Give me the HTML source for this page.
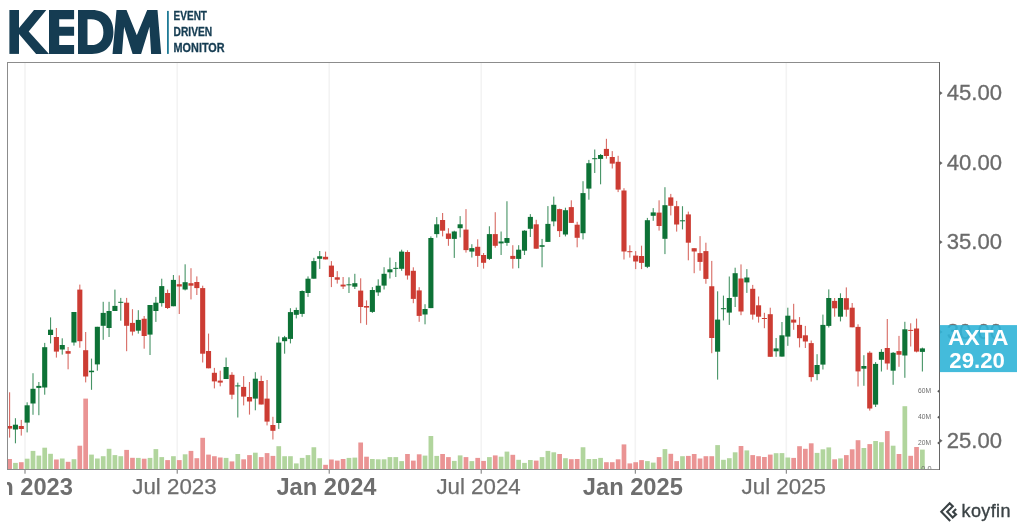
<!DOCTYPE html><html><head><meta charset="utf-8"><title>KEDM AXTA</title>
<style>html,body{margin:0;padding:0;background:#fff;}body{width:1024px;height:529px;overflow:hidden;font-family:"Liberation Sans",sans-serif;}svg{display:block;position:absolute;left:0;top:0;will-change:transform;}text{font-family:"Liberation Sans",sans-serif;}</style></head><body>
<svg width="1024" height="529" viewBox="0 0 1024 529">
<rect width="1024" height="529" fill="#fff"/>
<defs><clipPath id="cp"><rect x="8" y="63" width="931" height="406"/></clipPath><clipPath id="cx"><rect x="7" y="470" width="1017" height="59"/></clipPath></defs>
<rect x="24.2" y="63" width="1.6" height="406" fill="#f3f3f3"/>
<rect x="176.4" y="63" width="1.6" height="406" fill="#f3f3f3"/>
<rect x="328.4" y="63" width="1.6" height="406" fill="#f3f3f3"/>
<rect x="480.4" y="63" width="1.6" height="406" fill="#f3f3f3"/>
<rect x="634.5" y="63" width="1.6" height="406" fill="#f3f3f3"/>
<rect x="785.5" y="63" width="1.6" height="406" fill="#f3f3f3"/>
<g clip-path="url(#cp)">
<rect x="7.24" y="459" width="4.7" height="10" fill="#ea9494"/>
<rect x="13.09" y="462.9" width="4.7" height="6.1" fill="#b1d59d"/>
<rect x="18.94" y="462.2" width="4.7" height="6.8" fill="#ea9494"/>
<rect x="24.79" y="458.7" width="4.7" height="10.3" fill="#b1d59d"/>
<rect x="30.65" y="450.9" width="4.7" height="18.1" fill="#b1d59d"/>
<rect x="36.5" y="455.6" width="4.7" height="13.4" fill="#b1d59d"/>
<rect x="42.35" y="447.7" width="4.7" height="21.3" fill="#b1d59d"/>
<rect x="48.2" y="453.8" width="4.7" height="15.2" fill="#b1d59d"/>
<rect x="54.05" y="459.5" width="4.7" height="9.5" fill="#ea9494"/>
<rect x="59.9" y="458.5" width="4.7" height="10.5" fill="#b1d59d"/>
<rect x="65.75" y="461.8" width="4.7" height="7.2" fill="#ea9494"/>
<rect x="71.6" y="459.2" width="4.7" height="9.8" fill="#b1d59d"/>
<rect x="77.46" y="445.7" width="4.7" height="23.3" fill="#ea9494"/>
<rect x="83.31" y="398.6" width="4.7" height="70.4" fill="#ea9494"/>
<rect x="89.16" y="454.6" width="4.7" height="14.4" fill="#b1d59d"/>
<rect x="95.01" y="458.5" width="4.7" height="10.5" fill="#b1d59d"/>
<rect x="100.86" y="456.2" width="4.7" height="12.8" fill="#b1d59d"/>
<rect x="106.71" y="448.8" width="4.7" height="20.2" fill="#b1d59d"/>
<rect x="112.56" y="455.1" width="4.7" height="13.9" fill="#b1d59d"/>
<rect x="118.41" y="456.2" width="4.7" height="12.8" fill="#b1d59d"/>
<rect x="124.27" y="449.9" width="4.7" height="19.1" fill="#ea9494"/>
<rect x="130.12" y="457.8" width="4.7" height="11.2" fill="#ea9494"/>
<rect x="135.97" y="457.9" width="4.7" height="11.1" fill="#b1d59d"/>
<rect x="141.82" y="458.7" width="4.7" height="10.3" fill="#ea9494"/>
<rect x="147.67" y="457.9" width="4.7" height="11.1" fill="#b1d59d"/>
<rect x="153.52" y="449.1" width="4.7" height="19.9" fill="#b1d59d"/>
<rect x="159.37" y="457.1" width="4.7" height="11.9" fill="#b1d59d"/>
<rect x="165.23" y="460.1" width="4.7" height="8.9" fill="#ea9494"/>
<rect x="171.08" y="456.2" width="4.7" height="12.8" fill="#b1d59d"/>
<rect x="176.93" y="460.1" width="4.7" height="8.9" fill="#ea9494"/>
<rect x="182.78" y="454.3" width="4.7" height="14.7" fill="#b1d59d"/>
<rect x="188.63" y="450.9" width="4.7" height="18.1" fill="#ea9494"/>
<rect x="194.48" y="458.2" width="4.7" height="10.8" fill="#ea9494"/>
<rect x="200.33" y="437.8" width="4.7" height="31.2" fill="#ea9494"/>
<rect x="206.18" y="454.6" width="4.7" height="14.4" fill="#ea9494"/>
<rect x="212.04" y="456.2" width="4.7" height="12.8" fill="#ea9494"/>
<rect x="217.89" y="457.5" width="4.7" height="11.5" fill="#ea9494"/>
<rect x="223.74" y="457.9" width="4.7" height="11.1" fill="#b1d59d"/>
<rect x="229.59" y="461.4" width="4.7" height="7.6" fill="#ea9494"/>
<rect x="235.44" y="454" width="4.7" height="15" fill="#b1d59d"/>
<rect x="241.29" y="459.3" width="4.7" height="9.7" fill="#ea9494"/>
<rect x="247.14" y="455.1" width="4.7" height="13.9" fill="#ea9494"/>
<rect x="252.99" y="452.7" width="4.7" height="16.3" fill="#b1d59d"/>
<rect x="258.85" y="457.1" width="4.7" height="11.9" fill="#ea9494"/>
<rect x="264.7" y="453.1" width="4.7" height="15.9" fill="#ea9494"/>
<rect x="270.55" y="455.9" width="4.7" height="13.1" fill="#ea9494"/>
<rect x="276.4" y="446.2" width="4.7" height="22.8" fill="#b1d59d"/>
<rect x="282.25" y="456.2" width="4.7" height="12.8" fill="#b1d59d"/>
<rect x="288.1" y="456.2" width="4.7" height="12.8" fill="#b1d59d"/>
<rect x="293.95" y="463.4" width="4.7" height="5.6" fill="#b1d59d"/>
<rect x="299.8" y="457.9" width="4.7" height="11.1" fill="#b1d59d"/>
<rect x="305.66" y="455.1" width="4.7" height="13.9" fill="#b1d59d"/>
<rect x="311.51" y="447.25" width="4.7" height="21.75" fill="#b1d59d"/>
<rect x="317.36" y="458.2" width="4.7" height="10.8" fill="#b1d59d"/>
<rect x="323.21" y="464.8" width="4.7" height="4.2" fill="#ea9494"/>
<rect x="329.06" y="459.5" width="4.7" height="9.5" fill="#ea9494"/>
<rect x="334.91" y="460.6" width="4.7" height="8.4" fill="#ea9494"/>
<rect x="340.76" y="459" width="4.7" height="10" fill="#ea9494"/>
<rect x="346.62" y="457.9" width="4.7" height="11.1" fill="#b1d59d"/>
<rect x="352.47" y="457.6" width="4.7" height="11.4" fill="#b1d59d"/>
<rect x="358.32" y="442.5" width="4.7" height="26.5" fill="#ea9494"/>
<rect x="364.17" y="456.7" width="4.7" height="12.3" fill="#ea9494"/>
<rect x="370.02" y="459" width="4.7" height="10" fill="#b1d59d"/>
<rect x="375.87" y="459.3" width="4.7" height="9.7" fill="#b1d59d"/>
<rect x="381.72" y="459.3" width="4.7" height="9.7" fill="#b1d59d"/>
<rect x="387.57" y="457.1" width="4.7" height="11.9" fill="#b1d59d"/>
<rect x="393.43" y="457.1" width="4.7" height="11.9" fill="#b1d59d"/>
<rect x="399.28" y="461.1" width="4.7" height="7.9" fill="#b1d59d"/>
<rect x="405.13" y="454" width="4.7" height="15" fill="#ea9494"/>
<rect x="410.98" y="460.6" width="4.7" height="8.4" fill="#ea9494"/>
<rect x="416.83" y="454.3" width="4.7" height="14.7" fill="#ea9494"/>
<rect x="422.68" y="455.6" width="4.7" height="13.4" fill="#b1d59d"/>
<rect x="428.53" y="436" width="4.7" height="33" fill="#b1d59d"/>
<rect x="434.38" y="455.9" width="4.7" height="13.1" fill="#b1d59d"/>
<rect x="440.24" y="454" width="4.7" height="15" fill="#ea9494"/>
<rect x="446.09" y="457.1" width="4.7" height="11.9" fill="#ea9494"/>
<rect x="451.94" y="460.9" width="4.7" height="8.1" fill="#b1d59d"/>
<rect x="457.79" y="455.4" width="4.7" height="13.6" fill="#b1d59d"/>
<rect x="463.64" y="457.1" width="4.7" height="11.9" fill="#ea9494"/>
<rect x="469.49" y="461.1" width="4.7" height="7.9" fill="#b1d59d"/>
<rect x="475.34" y="457.9" width="4.7" height="11.1" fill="#ea9494"/>
<rect x="481.2" y="460.9" width="4.7" height="8.1" fill="#ea9494"/>
<rect x="487.05" y="457.1" width="4.7" height="11.9" fill="#b1d59d"/>
<rect x="492.9" y="455.4" width="4.7" height="13.6" fill="#ea9494"/>
<rect x="498.75" y="456.7" width="4.7" height="12.3" fill="#b1d59d"/>
<rect x="504.6" y="451.6" width="4.7" height="17.4" fill="#b1d59d"/>
<rect x="510.45" y="454.8" width="4.7" height="14.2" fill="#ea9494"/>
<rect x="516.3" y="459.8" width="4.7" height="9.2" fill="#b1d59d"/>
<rect x="522.15" y="462.9" width="4.7" height="6.1" fill="#b1d59d"/>
<rect x="528.01" y="460" width="4.7" height="9" fill="#b1d59d"/>
<rect x="533.86" y="460.6" width="4.7" height="8.4" fill="#ea9494"/>
<rect x="539.71" y="457.1" width="4.7" height="11.9" fill="#b1d59d"/>
<rect x="545.56" y="450.9" width="4.7" height="18.1" fill="#b1d59d"/>
<rect x="551.41" y="452.3" width="4.7" height="16.7" fill="#b1d59d"/>
<rect x="557.26" y="454" width="4.7" height="15" fill="#ea9494"/>
<rect x="563.11" y="458.2" width="4.7" height="10.8" fill="#b1d59d"/>
<rect x="568.96" y="459.2" width="4.7" height="9.8" fill="#ea9494"/>
<rect x="574.82" y="459" width="4.7" height="10" fill="#ea9494"/>
<rect x="580.67" y="447.25" width="4.7" height="21.75" fill="#b1d59d"/>
<rect x="586.52" y="459" width="4.7" height="10" fill="#b1d59d"/>
<rect x="592.37" y="459" width="4.7" height="10" fill="#b1d59d"/>
<rect x="598.22" y="457.9" width="4.7" height="11.1" fill="#b1d59d"/>
<rect x="604.07" y="462.2" width="4.7" height="6.8" fill="#ea9494"/>
<rect x="609.92" y="462.2" width="4.7" height="6.8" fill="#ea9494"/>
<rect x="615.78" y="459.3" width="4.7" height="9.7" fill="#ea9494"/>
<rect x="621.63" y="444.4" width="4.7" height="24.6" fill="#ea9494"/>
<rect x="627.48" y="463.4" width="4.7" height="5.6" fill="#ea9494"/>
<rect x="633.33" y="462.2" width="4.7" height="6.8" fill="#ea9494"/>
<rect x="639.18" y="460.1" width="4.7" height="8.9" fill="#ea9494"/>
<rect x="645.03" y="461.1" width="4.7" height="7.9" fill="#b1d59d"/>
<rect x="650.88" y="462.6" width="4.7" height="6.4" fill="#b1d59d"/>
<rect x="656.73" y="457.1" width="4.7" height="11.9" fill="#ea9494"/>
<rect x="662.59" y="449.1" width="4.7" height="19.9" fill="#b1d59d"/>
<rect x="668.44" y="453.8" width="4.7" height="15.2" fill="#ea9494"/>
<rect x="674.29" y="461.1" width="4.7" height="7.9" fill="#ea9494"/>
<rect x="680.14" y="456.2" width="4.7" height="12.8" fill="#b1d59d"/>
<rect x="685.99" y="455.9" width="4.7" height="13.1" fill="#ea9494"/>
<rect x="691.84" y="454" width="4.7" height="15" fill="#ea9494"/>
<rect x="697.69" y="458.5" width="4.7" height="10.5" fill="#ea9494"/>
<rect x="703.54" y="456.2" width="4.7" height="12.8" fill="#ea9494"/>
<rect x="709.4" y="456.2" width="4.7" height="12.8" fill="#ea9494"/>
<rect x="715.25" y="445.1" width="4.7" height="23.9" fill="#b1d59d"/>
<rect x="721.1" y="459.8" width="4.7" height="9.2" fill="#b1d59d"/>
<rect x="726.95" y="458.2" width="4.7" height="10.8" fill="#b1d59d"/>
<rect x="732.8" y="452.3" width="4.7" height="16.7" fill="#b1d59d"/>
<rect x="738.65" y="446" width="4.7" height="23" fill="#ea9494"/>
<rect x="744.5" y="450.4" width="4.7" height="18.6" fill="#b1d59d"/>
<rect x="750.36" y="455.1" width="4.7" height="13.9" fill="#ea9494"/>
<rect x="756.21" y="456.2" width="4.7" height="12.8" fill="#ea9494"/>
<rect x="762.06" y="457" width="4.7" height="12" fill="#ea9494"/>
<rect x="767.91" y="454.6" width="4.7" height="14.4" fill="#ea9494"/>
<rect x="773.76" y="453.2" width="4.7" height="15.8" fill="#b1d59d"/>
<rect x="779.61" y="453.1" width="4.7" height="15.9" fill="#b1d59d"/>
<rect x="785.46" y="457.5" width="4.7" height="11.5" fill="#b1d59d"/>
<rect x="791.31" y="457.9" width="4.7" height="11.1" fill="#ea9494"/>
<rect x="797.17" y="446.2" width="4.7" height="22.8" fill="#ea9494"/>
<rect x="803.02" y="448.8" width="4.7" height="20.2" fill="#ea9494"/>
<rect x="808.87" y="443.3" width="4.7" height="25.7" fill="#ea9494"/>
<rect x="814.72" y="452.9" width="4.7" height="16.1" fill="#b1d59d"/>
<rect x="820.57" y="449.3" width="4.7" height="19.7" fill="#b1d59d"/>
<rect x="826.42" y="447.4" width="4.7" height="21.6" fill="#b1d59d"/>
<rect x="832.27" y="459.3" width="4.7" height="9.7" fill="#ea9494"/>
<rect x="838.12" y="458.4" width="4.7" height="10.6" fill="#b1d59d"/>
<rect x="843.98" y="455.1" width="4.7" height="13.9" fill="#ea9494"/>
<rect x="849.83" y="449.3" width="4.7" height="19.7" fill="#ea9494"/>
<rect x="855.68" y="440.2" width="4.7" height="28.8" fill="#ea9494"/>
<rect x="861.53" y="448" width="4.7" height="21" fill="#b1d59d"/>
<rect x="867.38" y="444.1" width="4.7" height="24.9" fill="#ea9494"/>
<rect x="873.23" y="441" width="4.7" height="28" fill="#b1d59d"/>
<rect x="879.08" y="442.2" width="4.7" height="26.8" fill="#b1d59d"/>
<rect x="884.94" y="431.1" width="4.7" height="37.9" fill="#ea9494"/>
<rect x="890.79" y="445.7" width="4.7" height="23.3" fill="#b1d59d"/>
<rect x="896.64" y="454" width="4.7" height="15" fill="#ea9494"/>
<rect x="902.49" y="406.2" width="4.7" height="62.8" fill="#b1d59d"/>
<rect x="908.34" y="455.8" width="4.7" height="13.2" fill="#ea9494"/>
<rect x="914.19" y="447" width="4.7" height="22" fill="#ea9494"/>
<rect x="920.04" y="449.6" width="4.7" height="19.4" fill="#b1d59d"/>
<rect x="9.04" y="392.3" width="1.1" height="45.3" fill="#cc3c33" opacity="0.76"/>
<rect x="7.04" y="426" width="5.1" height="2.6" fill="#cc3c33"/>
<rect x="14.89" y="418.2" width="1.1" height="25.1" fill="#0d7236" opacity="0.76"/>
<rect x="12.89" y="424.7" width="5.1" height="4.8" fill="#0d7236"/>
<rect x="20.74" y="419.9" width="1.1" height="15.7" fill="#cc3c33" opacity="0.76"/>
<rect x="18.74" y="426" width="5.1" height="3" fill="#cc3c33"/>
<rect x="26.59" y="402.3" width="1.1" height="30.1" fill="#0d7236" opacity="0.76"/>
<rect x="24.59" y="405.3" width="5.1" height="17.3" fill="#0d7236"/>
<rect x="32.45" y="373.2" width="1.1" height="41.6" fill="#0d7236" opacity="0.76"/>
<rect x="30.45" y="388.8" width="5.1" height="14.7" fill="#0d7236"/>
<rect x="38.3" y="382" width="1.1" height="33.2" fill="#0d7236" opacity="0.76"/>
<rect x="36.3" y="385.9" width="5.1" height="2" fill="#0d7236"/>
<rect x="44.15" y="342.9" width="1.1" height="51.8" fill="#0d7236" opacity="0.76"/>
<rect x="42.15" y="347.2" width="5.1" height="40.3" fill="#0d7236"/>
<rect x="50" y="317.4" width="1.1" height="26" fill="#0d7236" opacity="0.76"/>
<rect x="48" y="329.7" width="5.1" height="5.3" fill="#0d7236"/>
<rect x="55.85" y="328" width="1.1" height="29.6" fill="#cc3c33" opacity="0.76"/>
<rect x="53.85" y="337" width="5.1" height="14.6" fill="#cc3c33"/>
<rect x="61.7" y="338.3" width="1.1" height="16.3" fill="#0d7236" opacity="0.76"/>
<rect x="59.7" y="345" width="5.1" height="4.5" fill="#0d7236"/>
<rect x="67.55" y="347" width="1.1" height="22.3" fill="#cc3c33" opacity="0.76"/>
<rect x="65.55" y="351.1" width="5.1" height="2.6" fill="#cc3c33"/>
<rect x="73.4" y="312" width="1.1" height="33.6" fill="#0d7236" opacity="0.76"/>
<rect x="71.4" y="312" width="5.1" height="30.5" fill="#0d7236"/>
<rect x="79.26" y="284.6" width="1.1" height="63.1" fill="#cc3c33" opacity="0.76"/>
<rect x="77.26" y="289.6" width="5.1" height="51.6" fill="#cc3c33"/>
<rect x="85.11" y="332" width="1.1" height="50.4" fill="#cc3c33" opacity="0.76"/>
<rect x="83.11" y="350.2" width="5.1" height="26.3" fill="#cc3c33"/>
<rect x="90.96" y="358.6" width="1.1" height="31.2" fill="#0d7236" opacity="0.76"/>
<rect x="88.96" y="370.7" width="5.1" height="1.5" fill="#0d7236"/>
<rect x="96.81" y="326.8" width="1.1" height="43.9" fill="#0d7236" opacity="0.76"/>
<rect x="94.81" y="326.8" width="5.1" height="37.6" fill="#0d7236"/>
<rect x="102.66" y="301.8" width="1.1" height="38" fill="#0d7236" opacity="0.76"/>
<rect x="100.66" y="312.9" width="5.1" height="12.9" fill="#0d7236"/>
<rect x="108.51" y="301.8" width="1.1" height="35.2" fill="#0d7236" opacity="0.76"/>
<rect x="106.51" y="311" width="5.1" height="17" fill="#0d7236"/>
<rect x="114.36" y="289.6" width="1.1" height="21.4" fill="#0d7236" opacity="0.76"/>
<rect x="112.36" y="305.9" width="5.1" height="5.1" fill="#0d7236"/>
<rect x="120.21" y="297.9" width="1.1" height="22.8" fill="#0d7236" opacity="0.76"/>
<rect x="118.21" y="301.8" width="5.1" height="1" fill="#0d7236"/>
<rect x="126.07" y="297.9" width="1.1" height="53.3" fill="#cc3c33" opacity="0.76"/>
<rect x="124.07" y="302.7" width="5.1" height="23.1" fill="#cc3c33"/>
<rect x="131.92" y="309.2" width="1.1" height="26.3" fill="#cc3c33" opacity="0.76"/>
<rect x="129.92" y="322.9" width="5.1" height="8.7" fill="#cc3c33"/>
<rect x="137.77" y="310.2" width="1.1" height="23.4" fill="#0d7236" opacity="0.76"/>
<rect x="135.77" y="319.9" width="5.1" height="10.8" fill="#0d7236"/>
<rect x="143.62" y="316" width="1.1" height="32.7" fill="#cc3c33" opacity="0.76"/>
<rect x="141.62" y="318.75" width="5.1" height="17.25" fill="#cc3c33"/>
<rect x="149.47" y="305" width="1.1" height="50" fill="#0d7236" opacity="0.76"/>
<rect x="147.47" y="305" width="5.1" height="29.6" fill="#0d7236"/>
<rect x="155.32" y="296.9" width="1.1" height="25" fill="#0d7236" opacity="0.76"/>
<rect x="153.32" y="302.7" width="5.1" height="8.3" fill="#0d7236"/>
<rect x="161.17" y="278.7" width="1.1" height="27.9" fill="#0d7236" opacity="0.76"/>
<rect x="159.17" y="286.1" width="5.1" height="17" fill="#0d7236"/>
<rect x="167.03" y="289.6" width="1.1" height="19.4" fill="#cc3c33" opacity="0.76"/>
<rect x="165.03" y="293" width="5.1" height="15" fill="#cc3c33"/>
<rect x="172.88" y="275" width="1.1" height="31.25" fill="#0d7236" opacity="0.76"/>
<rect x="170.88" y="279.9" width="5.1" height="26.35" fill="#0d7236"/>
<rect x="178.73" y="275.4" width="1.1" height="38.6" fill="#cc3c33" opacity="0.76"/>
<rect x="176.73" y="284.2" width="5.1" height="2.3" fill="#cc3c33"/>
<rect x="184.58" y="264.3" width="1.1" height="26.1" fill="#0d7236" opacity="0.76"/>
<rect x="182.58" y="282.2" width="5.1" height="7.3" fill="#0d7236"/>
<rect x="190.43" y="268.2" width="1.1" height="31.2" fill="#cc3c33" opacity="0.76"/>
<rect x="188.43" y="283.2" width="5.1" height="2.5" fill="#cc3c33"/>
<rect x="196.28" y="276.4" width="1.1" height="18.6" fill="#cc3c33" opacity="0.76"/>
<rect x="194.28" y="282" width="5.1" height="6.1" fill="#cc3c33"/>
<rect x="202.13" y="285.7" width="1.1" height="76.8" fill="#cc3c33" opacity="0.76"/>
<rect x="200.13" y="288.1" width="5.1" height="65.6" fill="#cc3c33"/>
<rect x="207.98" y="333.6" width="1.1" height="34.7" fill="#cc3c33" opacity="0.76"/>
<rect x="205.98" y="351" width="5.1" height="17.3" fill="#cc3c33"/>
<rect x="213.84" y="367.9" width="1.1" height="20.5" fill="#cc3c33" opacity="0.76"/>
<rect x="211.84" y="372.8" width="5.1" height="8.6" fill="#cc3c33"/>
<rect x="219.69" y="370.7" width="1.1" height="15.6" fill="#cc3c33" opacity="0.76"/>
<rect x="217.69" y="380.6" width="5.1" height="2" fill="#cc3c33"/>
<rect x="225.54" y="357.6" width="1.1" height="21.4" fill="#0d7236" opacity="0.76"/>
<rect x="223.54" y="367" width="5.1" height="12" fill="#0d7236"/>
<rect x="231.39" y="372.2" width="1.1" height="27" fill="#cc3c33" opacity="0.76"/>
<rect x="229.39" y="374.8" width="5.1" height="19.9" fill="#cc3c33"/>
<rect x="237.24" y="382.6" width="1.1" height="34.9" fill="#0d7236" opacity="0.76"/>
<rect x="235.24" y="385.4" width="5.1" height="1" fill="#0d7236"/>
<rect x="243.09" y="376.1" width="1.1" height="29.3" fill="#cc3c33" opacity="0.76"/>
<rect x="241.09" y="386.9" width="5.1" height="9.7" fill="#cc3c33"/>
<rect x="248.94" y="382" width="1.1" height="32.6" fill="#cc3c33" opacity="0.76"/>
<rect x="246.94" y="397" width="5.1" height="4.5" fill="#cc3c33"/>
<rect x="254.79" y="372.2" width="1.1" height="38.1" fill="#0d7236" opacity="0.76"/>
<rect x="252.79" y="378.7" width="5.1" height="19.9" fill="#0d7236"/>
<rect x="260.65" y="375.7" width="1.1" height="28.8" fill="#cc3c33" opacity="0.76"/>
<rect x="258.65" y="381" width="5.1" height="23.5" fill="#cc3c33"/>
<rect x="266.5" y="380" width="1.1" height="45.4" fill="#cc3c33" opacity="0.76"/>
<rect x="264.5" y="398.6" width="5.1" height="23" fill="#cc3c33"/>
<rect x="272.35" y="416.8" width="1.1" height="22.7" fill="#cc3c33" opacity="0.76"/>
<rect x="270.35" y="425" width="5.1" height="5.8" fill="#cc3c33"/>
<rect x="278.2" y="336.5" width="1.1" height="92.4" fill="#0d7236" opacity="0.76"/>
<rect x="276.2" y="342.6" width="5.1" height="80.4" fill="#0d7236"/>
<rect x="284.05" y="335.9" width="1.1" height="17.8" fill="#0d7236" opacity="0.76"/>
<rect x="282.05" y="337.3" width="5.1" height="3.9" fill="#0d7236"/>
<rect x="289.9" y="308.2" width="1.1" height="35.2" fill="#0d7236" opacity="0.76"/>
<rect x="287.9" y="312.1" width="5.1" height="26.8" fill="#0d7236"/>
<rect x="295.75" y="307.6" width="1.1" height="10.8" fill="#0d7236" opacity="0.76"/>
<rect x="293.75" y="310" width="5.1" height="4.8" fill="#0d7236"/>
<rect x="301.6" y="290.4" width="1.1" height="26.4" fill="#0d7236" opacity="0.76"/>
<rect x="299.6" y="291" width="5.1" height="22.9" fill="#0d7236"/>
<rect x="307.46" y="276.4" width="1.1" height="20.5" fill="#0d7236" opacity="0.76"/>
<rect x="305.46" y="278.7" width="5.1" height="14.3" fill="#0d7236"/>
<rect x="313.31" y="257.8" width="1.1" height="20.9" fill="#0d7236" opacity="0.76"/>
<rect x="311.31" y="261.1" width="5.1" height="17.6" fill="#0d7236"/>
<rect x="319.16" y="251" width="1.1" height="17.9" fill="#0d7236" opacity="0.76"/>
<rect x="317.16" y="256.25" width="5.1" height="2.55" fill="#0d7236"/>
<rect x="325.01" y="251.6" width="1.1" height="7.8" fill="#cc3c33" opacity="0.76"/>
<rect x="323.01" y="256.8" width="5.1" height="2.6" fill="#cc3c33"/>
<rect x="330.86" y="261.1" width="1.1" height="26" fill="#cc3c33" opacity="0.76"/>
<rect x="328.86" y="265.6" width="5.1" height="11.4" fill="#cc3c33"/>
<rect x="336.71" y="271.1" width="1.1" height="12.5" fill="#cc3c33" opacity="0.76"/>
<rect x="334.71" y="277.3" width="5.1" height="2.4" fill="#cc3c33"/>
<rect x="342.56" y="277" width="1.1" height="12" fill="#cc3c33" opacity="0.76"/>
<rect x="340.56" y="284.6" width="5.1" height="1.9" fill="#cc3c33"/>
<rect x="348.42" y="277.3" width="1.1" height="15.7" fill="#0d7236" opacity="0.76"/>
<rect x="346.42" y="284.3" width="5.1" height="1" fill="#0d7236"/>
<rect x="354.27" y="273.8" width="1.1" height="15.2" fill="#0d7236" opacity="0.76"/>
<rect x="352.27" y="283.2" width="5.1" height="3.5" fill="#0d7236"/>
<rect x="360.12" y="278.3" width="1.1" height="44.9" fill="#cc3c33" opacity="0.76"/>
<rect x="358.12" y="290.6" width="5.1" height="16.4" fill="#cc3c33"/>
<rect x="365.97" y="300.4" width="1.1" height="24.4" fill="#cc3c33" opacity="0.76"/>
<rect x="363.97" y="306" width="5.1" height="1.6" fill="#cc3c33"/>
<rect x="371.82" y="287.1" width="1.1" height="25.8" fill="#0d7236" opacity="0.76"/>
<rect x="369.82" y="290" width="5.1" height="21.9" fill="#0d7236"/>
<rect x="377.67" y="279.3" width="1.1" height="16.6" fill="#0d7236" opacity="0.76"/>
<rect x="375.67" y="285.7" width="5.1" height="6.7" fill="#0d7236"/>
<rect x="383.52" y="267.2" width="1.1" height="22.3" fill="#0d7236" opacity="0.76"/>
<rect x="381.52" y="273.8" width="5.1" height="11.8" fill="#0d7236"/>
<rect x="389.37" y="257.6" width="1.1" height="20.9" fill="#0d7236" opacity="0.76"/>
<rect x="387.37" y="269.3" width="5.1" height="3" fill="#0d7236"/>
<rect x="395.23" y="262" width="1.1" height="15" fill="#0d7236" opacity="0.76"/>
<rect x="393.23" y="267.85" width="5.1" height="1" fill="#0d7236"/>
<rect x="401.08" y="249.7" width="1.1" height="21.1" fill="#0d7236" opacity="0.76"/>
<rect x="399.08" y="251.6" width="5.1" height="17.2" fill="#0d7236"/>
<rect x="406.93" y="250.3" width="1.1" height="29.3" fill="#cc3c33" opacity="0.76"/>
<rect x="404.93" y="252" width="5.1" height="23.5" fill="#cc3c33"/>
<rect x="412.78" y="267.3" width="1.1" height="35.9" fill="#cc3c33" opacity="0.76"/>
<rect x="410.78" y="270.8" width="5.1" height="28.1" fill="#cc3c33"/>
<rect x="418.63" y="287.2" width="1.1" height="34.6" fill="#cc3c33" opacity="0.76"/>
<rect x="416.63" y="290.4" width="5.1" height="25.5" fill="#cc3c33"/>
<rect x="424.48" y="304.2" width="1.1" height="20.1" fill="#0d7236" opacity="0.76"/>
<rect x="422.48" y="309" width="5.1" height="5.5" fill="#0d7236"/>
<rect x="430.33" y="236.4" width="1.1" height="71.7" fill="#0d7236" opacity="0.76"/>
<rect x="428.33" y="238" width="5.1" height="70.1" fill="#0d7236"/>
<rect x="436.18" y="217.1" width="1.1" height="20.5" fill="#0d7236" opacity="0.76"/>
<rect x="434.18" y="224.3" width="5.1" height="9.8" fill="#0d7236"/>
<rect x="442.04" y="213" width="1.1" height="23.4" fill="#cc3c33" opacity="0.76"/>
<rect x="440.04" y="220" width="5.1" height="10.7" fill="#cc3c33"/>
<rect x="447.89" y="228.2" width="1.1" height="17.6" fill="#cc3c33" opacity="0.76"/>
<rect x="445.89" y="233.5" width="5.1" height="5.4" fill="#cc3c33"/>
<rect x="453.74" y="230.7" width="1.1" height="27.2" fill="#0d7236" opacity="0.76"/>
<rect x="451.74" y="231.5" width="5.1" height="7.4" fill="#0d7236"/>
<rect x="459.59" y="216.1" width="1.1" height="21.3" fill="#0d7236" opacity="0.76"/>
<rect x="457.59" y="224.3" width="5.1" height="3.9" fill="#0d7236"/>
<rect x="465.44" y="209.1" width="1.1" height="43.5" fill="#cc3c33" opacity="0.76"/>
<rect x="463.44" y="229.6" width="5.1" height="20.5" fill="#cc3c33"/>
<rect x="471.29" y="244.2" width="1.1" height="13.3" fill="#0d7236" opacity="0.76"/>
<rect x="469.29" y="248.1" width="5.1" height="3.5" fill="#0d7236"/>
<rect x="477.14" y="239.3" width="1.1" height="27.6" fill="#cc3c33" opacity="0.76"/>
<rect x="475.14" y="246.8" width="5.1" height="9.1" fill="#cc3c33"/>
<rect x="483" y="253" width="1.1" height="15.6" fill="#cc3c33" opacity="0.76"/>
<rect x="481" y="255" width="5.1" height="7.8" fill="#cc3c33"/>
<rect x="488.85" y="226.25" width="1.1" height="33.75" fill="#0d7236" opacity="0.76"/>
<rect x="486.85" y="234.1" width="5.1" height="24.8" fill="#0d7236"/>
<rect x="494.7" y="212.2" width="1.1" height="35.5" fill="#cc3c33" opacity="0.76"/>
<rect x="492.7" y="234.1" width="5.1" height="11.7" fill="#cc3c33"/>
<rect x="500.55" y="231.5" width="1.1" height="23.5" fill="#0d7236" opacity="0.76"/>
<rect x="498.55" y="241.5" width="5.1" height="1.9" fill="#0d7236"/>
<rect x="506.4" y="201.25" width="1.1" height="44.55" fill="#0d7236" opacity="0.76"/>
<rect x="504.4" y="238" width="5.1" height="4.9" fill="#0d7236"/>
<rect x="512.25" y="245.2" width="1.1" height="23.4" fill="#cc3c33" opacity="0.76"/>
<rect x="510.25" y="255.9" width="5.1" height="3" fill="#cc3c33"/>
<rect x="518.1" y="245.2" width="1.1" height="23" fill="#0d7236" opacity="0.76"/>
<rect x="516.1" y="249.7" width="5.1" height="9.2" fill="#0d7236"/>
<rect x="523.95" y="230.2" width="1.1" height="24.8" fill="#0d7236" opacity="0.76"/>
<rect x="521.95" y="230.7" width="5.1" height="20" fill="#0d7236"/>
<rect x="529.81" y="214.1" width="1.1" height="22.9" fill="#0d7236" opacity="0.76"/>
<rect x="527.81" y="216.9" width="5.1" height="11.9" fill="#0d7236"/>
<rect x="535.66" y="219.8" width="1.1" height="28.9" fill="#cc3c33" opacity="0.76"/>
<rect x="533.66" y="224.3" width="5.1" height="24.4" fill="#cc3c33"/>
<rect x="541.51" y="238.9" width="1.1" height="28.4" fill="#0d7236" opacity="0.76"/>
<rect x="539.51" y="245.2" width="5.1" height="1.6" fill="#0d7236"/>
<rect x="547.36" y="206.1" width="1.1" height="35.8" fill="#0d7236" opacity="0.76"/>
<rect x="545.36" y="223.9" width="5.1" height="18" fill="#0d7236"/>
<rect x="553.21" y="196.6" width="1.1" height="29.65" fill="#0d7236" opacity="0.76"/>
<rect x="551.21" y="204.8" width="5.1" height="16.6" fill="#0d7236"/>
<rect x="559.06" y="208.7" width="1.1" height="28.3" fill="#cc3c33" opacity="0.76"/>
<rect x="557.06" y="209.1" width="5.1" height="22" fill="#cc3c33"/>
<rect x="564.91" y="207.7" width="1.1" height="28.7" fill="#0d7236" opacity="0.76"/>
<rect x="562.91" y="210.2" width="5.1" height="24.3" fill="#0d7236"/>
<rect x="570.76" y="200.3" width="1.1" height="22.6" fill="#cc3c33" opacity="0.76"/>
<rect x="568.76" y="207.1" width="5.1" height="15.8" fill="#cc3c33"/>
<rect x="576.62" y="221.8" width="1.1" height="25.5" fill="#cc3c33" opacity="0.76"/>
<rect x="574.62" y="224.7" width="5.1" height="13.1" fill="#cc3c33"/>
<rect x="582.47" y="181.2" width="1.1" height="58.2" fill="#0d7236" opacity="0.76"/>
<rect x="580.47" y="193.1" width="5.1" height="40.1" fill="#0d7236"/>
<rect x="588.32" y="159.9" width="1.1" height="39.8" fill="#0d7236" opacity="0.76"/>
<rect x="586.32" y="163.2" width="5.1" height="25.4" fill="#0d7236"/>
<rect x="594.17" y="149.5" width="1.1" height="23.5" fill="#0d7236" opacity="0.76"/>
<rect x="592.17" y="158.2" width="5.1" height="1" fill="#0d7236"/>
<rect x="600.02" y="154" width="1.1" height="30.3" fill="#0d7236" opacity="0.76"/>
<rect x="598.02" y="155" width="5.1" height="3.9" fill="#0d7236"/>
<rect x="605.87" y="138.8" width="1.1" height="19.9" fill="#cc3c33" opacity="0.76"/>
<rect x="603.87" y="148.9" width="5.1" height="7.1" fill="#cc3c33"/>
<rect x="611.72" y="151.1" width="1.1" height="17.4" fill="#cc3c33" opacity="0.76"/>
<rect x="609.72" y="157" width="5.1" height="6.6" fill="#cc3c33"/>
<rect x="617.58" y="155.8" width="1.1" height="36.3" fill="#cc3c33" opacity="0.76"/>
<rect x="615.58" y="161.8" width="5.1" height="27.8" fill="#cc3c33"/>
<rect x="623.43" y="188.2" width="1.1" height="71.3" fill="#cc3c33" opacity="0.76"/>
<rect x="621.43" y="190.5" width="5.1" height="61" fill="#cc3c33"/>
<rect x="629.28" y="245.3" width="1.1" height="12.3" fill="#cc3c33" opacity="0.76"/>
<rect x="627.28" y="251.2" width="5.1" height="1" fill="#cc3c33"/>
<rect x="635.13" y="251.1" width="1.1" height="18" fill="#cc3c33" opacity="0.76"/>
<rect x="633.13" y="255.6" width="5.1" height="5.9" fill="#cc3c33"/>
<rect x="640.98" y="245.7" width="1.1" height="23.4" fill="#cc3c33" opacity="0.76"/>
<rect x="638.98" y="256" width="5.1" height="6.9" fill="#cc3c33"/>
<rect x="646.83" y="217.9" width="1.1" height="50.2" fill="#0d7236" opacity="0.76"/>
<rect x="644.83" y="220.2" width="5.1" height="46.6" fill="#0d7236"/>
<rect x="652.68" y="208.1" width="1.1" height="12.7" fill="#0d7236" opacity="0.76"/>
<rect x="650.68" y="212.4" width="5.1" height="3.4" fill="#0d7236"/>
<rect x="658.53" y="200.3" width="1.1" height="30.3" fill="#cc3c33" opacity="0.76"/>
<rect x="656.53" y="212.6" width="5.1" height="13.4" fill="#cc3c33"/>
<rect x="664.39" y="187.2" width="1.1" height="66.9" fill="#0d7236" opacity="0.76"/>
<rect x="662.39" y="205.2" width="5.1" height="33.6" fill="#0d7236"/>
<rect x="670.24" y="193.9" width="1.1" height="21.5" fill="#cc3c33" opacity="0.76"/>
<rect x="668.24" y="197.4" width="5.1" height="8.4" fill="#cc3c33"/>
<rect x="676.09" y="200.9" width="1.1" height="30.7" fill="#cc3c33" opacity="0.76"/>
<rect x="674.09" y="206.2" width="5.1" height="18.3" fill="#cc3c33"/>
<rect x="681.94" y="206.2" width="1.1" height="23.2" fill="#0d7236" opacity="0.76"/>
<rect x="679.94" y="220.3" width="5.1" height="1" fill="#0d7236"/>
<rect x="687.79" y="211.6" width="1.1" height="48.7" fill="#cc3c33" opacity="0.76"/>
<rect x="685.79" y="214.4" width="5.1" height="28.3" fill="#cc3c33"/>
<rect x="693.64" y="248.2" width="1.1" height="25" fill="#cc3c33" opacity="0.76"/>
<rect x="691.64" y="248.2" width="5.1" height="3.3" fill="#cc3c33"/>
<rect x="699.49" y="236.1" width="1.1" height="34.6" fill="#cc3c33" opacity="0.76"/>
<rect x="697.49" y="253.1" width="5.1" height="8.8" fill="#cc3c33"/>
<rect x="705.34" y="242.7" width="1.1" height="41.05" fill="#cc3c33" opacity="0.76"/>
<rect x="703.34" y="251.1" width="5.1" height="27.8" fill="#cc3c33"/>
<rect x="711.2" y="260.9" width="1.1" height="92.3" fill="#cc3c33" opacity="0.76"/>
<rect x="709.2" y="286.25" width="5.1" height="51.75" fill="#cc3c33"/>
<rect x="717.05" y="291.3" width="1.1" height="88.3" fill="#0d7236" opacity="0.76"/>
<rect x="715.05" y="319.6" width="5.1" height="32.1" fill="#0d7236"/>
<rect x="722.9" y="295.6" width="1.1" height="24.8" fill="#0d7236" opacity="0.76"/>
<rect x="720.9" y="308.2" width="5.1" height="1" fill="#0d7236"/>
<rect x="728.75" y="276.5" width="1.1" height="48.4" fill="#0d7236" opacity="0.76"/>
<rect x="726.75" y="298" width="5.1" height="14.6" fill="#0d7236"/>
<rect x="734.6" y="267.7" width="1.1" height="39.3" fill="#0d7236" opacity="0.76"/>
<rect x="732.6" y="273.2" width="5.1" height="23.6" fill="#0d7236"/>
<rect x="740.45" y="264.4" width="1.1" height="50.8" fill="#cc3c33" opacity="0.76"/>
<rect x="738.45" y="278.5" width="5.1" height="33" fill="#cc3c33"/>
<rect x="746.3" y="269.1" width="1.1" height="23.8" fill="#0d7236" opacity="0.76"/>
<rect x="744.3" y="277.5" width="5.1" height="4.9" fill="#0d7236"/>
<rect x="752.16" y="284.9" width="1.1" height="34.7" fill="#cc3c33" opacity="0.76"/>
<rect x="750.16" y="288.8" width="5.1" height="25.8" fill="#cc3c33"/>
<rect x="758.01" y="296.5" width="1.1" height="26.1" fill="#cc3c33" opacity="0.76"/>
<rect x="756.01" y="305.3" width="5.1" height="11.4" fill="#cc3c33"/>
<rect x="763.86" y="312.8" width="1.1" height="15.4" fill="#cc3c33" opacity="0.76"/>
<rect x="761.86" y="318" width="5.1" height="1" fill="#cc3c33"/>
<rect x="769.71" y="307.7" width="1.1" height="49.1" fill="#cc3c33" opacity="0.76"/>
<rect x="767.71" y="314.2" width="5.1" height="42.6" fill="#cc3c33"/>
<rect x="775.56" y="338" width="1.1" height="18.8" fill="#0d7236" opacity="0.76"/>
<rect x="773.56" y="348.4" width="5.1" height="2.9" fill="#0d7236"/>
<rect x="781.41" y="322" width="1.1" height="34.6" fill="#0d7236" opacity="0.76"/>
<rect x="779.41" y="335.3" width="5.1" height="21.3" fill="#0d7236"/>
<rect x="787.26" y="307.7" width="1.1" height="38.1" fill="#0d7236" opacity="0.76"/>
<rect x="785.26" y="315.7" width="5.1" height="20.9" fill="#0d7236"/>
<rect x="793.11" y="303.8" width="1.1" height="26" fill="#cc3c33" opacity="0.76"/>
<rect x="791.11" y="319.6" width="5.1" height="3" fill="#cc3c33"/>
<rect x="798.97" y="317.1" width="1.1" height="30.3" fill="#cc3c33" opacity="0.76"/>
<rect x="796.97" y="324.9" width="5.1" height="13.3" fill="#cc3c33"/>
<rect x="804.82" y="325.9" width="1.1" height="22.1" fill="#cc3c33" opacity="0.76"/>
<rect x="802.82" y="335.3" width="5.1" height="6.2" fill="#cc3c33"/>
<rect x="810.67" y="340.5" width="1.1" height="41.1" fill="#cc3c33" opacity="0.76"/>
<rect x="808.67" y="343.1" width="5.1" height="34" fill="#cc3c33"/>
<rect x="816.52" y="354.2" width="1.1" height="26" fill="#0d7236" opacity="0.76"/>
<rect x="814.52" y="365" width="5.1" height="9.1" fill="#0d7236"/>
<rect x="822.37" y="314.6" width="1.1" height="54.9" fill="#0d7236" opacity="0.76"/>
<rect x="820.37" y="324.9" width="5.1" height="39.7" fill="#0d7236"/>
<rect x="828.22" y="289.4" width="1.1" height="38.1" fill="#0d7236" opacity="0.76"/>
<rect x="826.22" y="298" width="5.1" height="27.9" fill="#0d7236"/>
<rect x="834.07" y="298" width="1.1" height="18.7" fill="#cc3c33" opacity="0.76"/>
<rect x="832.07" y="300.9" width="5.1" height="7.4" fill="#cc3c33"/>
<rect x="839.92" y="293.3" width="1.1" height="28.1" fill="#0d7236" opacity="0.76"/>
<rect x="837.92" y="298" width="5.1" height="18.7" fill="#0d7236"/>
<rect x="845.78" y="287.4" width="1.1" height="29.3" fill="#cc3c33" opacity="0.76"/>
<rect x="843.78" y="298.2" width="5.1" height="11.5" fill="#cc3c33"/>
<rect x="851.63" y="303" width="1.1" height="24.3" fill="#cc3c33" opacity="0.76"/>
<rect x="849.63" y="307.7" width="5.1" height="19.6" fill="#cc3c33"/>
<rect x="857.48" y="324.3" width="1.1" height="62.2" fill="#cc3c33" opacity="0.76"/>
<rect x="855.48" y="326.9" width="5.1" height="44.5" fill="#cc3c33"/>
<rect x="863.33" y="355.2" width="1.1" height="30.6" fill="#0d7236" opacity="0.76"/>
<rect x="861.33" y="366" width="5.1" height="2.7" fill="#0d7236"/>
<rect x="869.18" y="351.2" width="1.1" height="59.4" fill="#cc3c33" opacity="0.76"/>
<rect x="867.18" y="352.7" width="5.1" height="55.8" fill="#cc3c33"/>
<rect x="875.03" y="362.1" width="1.1" height="44.9" fill="#0d7236" opacity="0.76"/>
<rect x="873.03" y="363.9" width="5.1" height="40.7" fill="#0d7236"/>
<rect x="880.88" y="349.2" width="1.1" height="22.3" fill="#0d7236" opacity="0.76"/>
<rect x="878.88" y="351.9" width="5.1" height="7.9" fill="#0d7236"/>
<rect x="886.74" y="319" width="1.1" height="50.7" fill="#cc3c33" opacity="0.76"/>
<rect x="884.74" y="348" width="5.1" height="15.5" fill="#cc3c33"/>
<rect x="892.59" y="352" width="1.1" height="32.8" fill="#0d7236" opacity="0.76"/>
<rect x="890.59" y="352.8" width="5.1" height="17.9" fill="#0d7236"/>
<rect x="898.44" y="335.9" width="1.1" height="30.9" fill="#cc3c33" opacity="0.76"/>
<rect x="896.44" y="351.1" width="5.1" height="3.6" fill="#cc3c33"/>
<rect x="904.29" y="321.8" width="1.1" height="56" fill="#0d7236" opacity="0.76"/>
<rect x="902.29" y="329.3" width="5.1" height="26.2" fill="#0d7236"/>
<rect x="910.14" y="323.3" width="1.1" height="23.2" fill="#cc3c33" opacity="0.76"/>
<rect x="908.14" y="329.9" width="5.1" height="1" fill="#cc3c33"/>
<rect x="915.99" y="318.6" width="1.1" height="33.8" fill="#cc3c33" opacity="0.76"/>
<rect x="913.99" y="328.5" width="5.1" height="23.1" fill="#cc3c33"/>
<rect x="921.84" y="347.6" width="1.1" height="23.9" fill="#0d7236" opacity="0.76"/>
<rect x="919.84" y="348.4" width="5.1" height="3.5" fill="#0d7236"/>
</g>
<defs><clipPath id="cpv"><rect x="900" y="380" width="39" height="89"/></clipPath></defs>
<g clip-path="url(#cpv)">
<text x="931" y="393.1" font-size="7.3" fill="#6c6c6c" text-anchor="end" textLength="13" lengthAdjust="spacingAndGlyphs">60M</text>
<path d="M937.2 391.3 L939 389.8 L939 392.8 Z" fill="#555"/>
<text x="931" y="419.1" font-size="7.3" fill="#6c6c6c" text-anchor="end" textLength="13" lengthAdjust="spacingAndGlyphs">40M</text>
<path d="M937.2 417.3 L939 415.8 L939 418.8 Z" fill="#555"/>
<text x="931" y="444.8" font-size="7.3" fill="#6c6c6c" text-anchor="end" textLength="13" lengthAdjust="spacingAndGlyphs">20M</text>
<path d="M937.2 443 L939 441.5 L939 444.5 Z" fill="#555"/>
<text x="931.5" y="471.1" font-size="7.3" fill="#6c6c6c" text-anchor="end">0.0</text>
</g>
<rect x="7" y="62" width="932" height="1" fill="#8c8c8c"/>
<rect x="7" y="62" width="1" height="408" fill="#8c8c8c"/>
<rect x="7" y="469" width="933" height="1" fill="#8c8c8c"/>
<rect x="939" y="62" width="1" height="408" fill="#666"/>
<rect x="24.5" y="470" width="1" height="3.7" fill="#777"/>
<rect x="176.7" y="470" width="1" height="3.7" fill="#777"/>
<rect x="328.7" y="470" width="1" height="3.7" fill="#777"/>
<rect x="480.7" y="470" width="1" height="3.7" fill="#777"/>
<rect x="634.8" y="470" width="1" height="3.7" fill="#777"/>
<rect x="785.8" y="470" width="1" height="3.7" fill="#777"/>
<text transform="translate(946.7 100.2) scale(1 1)" font-size="22.1" fill="#6b6b6b" stroke="#6b6b6b" stroke-width="0.3">45.00</text>
<path d="M940 91.2 L942.6 93.1 L940 95 Z" fill="#666"/>
<text transform="translate(946.7 170.2) scale(1 1)" font-size="22.1" fill="#6b6b6b" stroke="#6b6b6b" stroke-width="0.3">40.00</text>
<path d="M940 161.2 L942.6 163.1 L940 165 Z" fill="#666"/>
<text transform="translate(946.7 249.2) scale(1 1)" font-size="22.1" fill="#6b6b6b" stroke="#6b6b6b" stroke-width="0.3">35.00</text>
<path d="M940 240.2 L942.6 242.1 L940 244 Z" fill="#666"/>
<text transform="translate(946.7 339) scale(1 1)" font-size="22.1" fill="#6b6b6b" stroke="#6b6b6b" stroke-width="0.3">30.00</text>
<path d="M940 330 L942.6 331.9 L940 333.8 Z" fill="#666"/>
<text transform="translate(946.7 447.9) scale(1 1)" font-size="22.1" fill="#6b6b6b" stroke="#6b6b6b" stroke-width="0.3">25.00</text>
<path d="M940 438.9 L942.6 440.8 L940 442.7 Z" fill="#666"/>
<g clip-path="url(#cx)">
<text x="-27.2" y="494.7" font-size="23.7" font-weight="bold" fill="#6e6e6e">Jan 2023</text>
<text transform="translate(132.3 493.9) scale(1 1)" font-size="22.3" fill="#6e6e6e" stroke="#6e6e6e" stroke-width="0.25">Jul 2023</text>
<text x="276.4" y="494.7" font-size="23.7" font-weight="bold" fill="#6e6e6e">Jan 2024</text>
<text transform="translate(436.4 493.9) scale(1 1)" font-size="22.3" fill="#6e6e6e" stroke="#6e6e6e" stroke-width="0.25">Jul 2024</text>
<text x="582.8" y="494.7" font-size="23.7" font-weight="bold" fill="#6e6e6e">Jan 2025</text>
<text transform="translate(741.6 493.9) scale(1 1)" font-size="22.3" fill="#6e6e6e" stroke="#6e6e6e" stroke-width="0.25">Jul 2025</text>
</g>
<rect x="939.9" y="325.1" width="77.1" height="47" fill="rgb(48,180,215)" opacity="0.9"/>
<text x="978.3" y="345.4" font-size="22.8" font-weight="bold" fill="#fff" text-anchor="middle">AXTA</text>
<text transform="translate(977.1 368) scale(1 1)" font-size="22.2" font-weight="bold" fill="#fff" text-anchor="middle">29.20</text>
<g fill="#153c52">
<rect x="9.4" y="10" width="9.6" height="43.9"/>
<path d="M19 28.1 L34 10 L46.3 10 L28.7 31.4 L49 53.9 L36.1 53.9 L19 34 Z"/>
<path d="M49 10 H74.1 V19.3 H59.2 V26.7 H74.1 V35.7 H59.2 V45.1 H74.1 V53.9 H49 Z"/>
<path fill-rule="evenodd" d="M78 10 H92 C106 10 113.4 19 113.4 31.95 C113.4 44.9 106 53.9 92 53.9 H78 Z M87.5 19.3 V45.1 H91 C99.5 45.1 103.4 40 103.4 32.2 C103.4 24.4 99.5 19.3 91 19.3 Z"/>
<path d="M112.5 53.9 L116.5 10 L126.5 10 L136.8 35.25 L147.2 10 L157.5 10 L161.2 53.9 L151.1 53.9 L149.5 26.8 L141.1 53.9 L132.6 53.9 L124.1 26.8 L122 53.9 Z"/>
</g>
<rect x="167" y="10.9" width="1.8" height="43" fill="#1f7a96"/>
<g fill="#153c52" stroke="#153c52" stroke-width="0.3" font-weight="bold" font-size="12">
<text x="173.6" y="19.6" textLength="33.4" lengthAdjust="spacingAndGlyphs">EVENT</text>
<text x="173.6" y="35.6" textLength="38.6" lengthAdjust="spacingAndGlyphs">DRIVEN</text>
<text x="173.6" y="52" textLength="51" lengthAdjust="spacingAndGlyphs">MONITOR</text>
</g>
<g fill="none" stroke="#3a4245" stroke-width="2.1" stroke-linejoin="miter">
<path d="M950.2 520.9 L941.3 511.8 L949.65 503.2 L952.8 506.35 L947.2 511.85 L952.65 517.5 L956 514.4 L953.2 511.85 L956.1 508.95"/>
</g>
<text x="961.5" y="516.6" font-size="18" fill="#3a4245" stroke="#3a4245" stroke-width="0.35" textLength="49" lengthAdjust="spacing">koyfin</text>
</svg></body></html>
